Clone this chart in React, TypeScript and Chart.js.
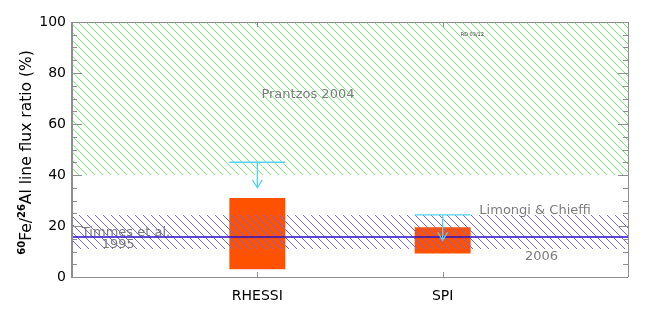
import React, { useEffect, useRef } from 'react';
import { Chart, registerables } from 'chart.js';

Chart.register(...registerables);

// ---- data ----
const categories = ['', 'RHESSI', 'SPI', ''];
const measuredLow: (number | null)[] = [null, 3, 9.2, null];
const measuredHigh: (number | null)[] = [null, 31, 19.5, null];
const upperLimits: (number | null)[] = [null, 45, 24.4, null];
const arrowDrop = 10;
const yTicks = [0, 20, 40, 60, 80, 100];
const prantzosBand = [40, 100];
const modelBand = [11, 24.4];
const modelLine = 15.7;

const FONT = 'DejaVu Sans';

const overlay = {
  id: 'overlay',
  afterDatasetsDraw(chart: any) {
    const { ctx, chartArea: a, scales } = chart;
    const x = scales.x;
    const y = scales.y;
    ctx.save();

    const hatch = (lo: number, hi: number, color: string) => {
      const top = Math.round(y.getPixelForValue(hi));
      const bot = Math.round(y.getPixelForValue(lo));
      const h = bot - top;
      const step = 8;
      ctx.save();
      ctx.beginPath();
      ctx.rect(a.left, top, a.right - a.left, h);
      ctx.clip();
      ctx.fillStyle = color;
      // draw 1px diagonal pixel lines (crisp, like a raster hatch)
      const left = Math.floor(a.left);
      const right = Math.ceil(a.right);
      for (let row = 0; row < h; row++) {
        const py = top + row;
        const shift = (py - 0) % step;
        for (let px = left - step + ((shift + step * 100) % step); px < right; px += step) {
          ctx.fillRect(px, py, 1, 1);
        }
      }
      ctx.restore();
    };

    hatch(prantzosBand[0], prantzosBand[1], '#6ef06e');
    hatch(modelBand[0], modelBand[1], '#7565ec');

    // model line
    const ly = y.getPixelForValue(modelLine);
    ctx.strokeStyle = '#2a10c8';
    ctx.lineWidth = 1.6;
    ctx.beginPath();
    ctx.moveTo(a.left, ly);
    ctx.lineTo(a.right, ly);
    ctx.stroke();

    // upper limit arrows
    const meta = chart.getDatasetMeta(0);
    ctx.strokeStyle = '#52d2f4';
    ctx.lineWidth = 1.3;
    upperLimits.forEach((u, i) => {
      if (u == null) return;
      const el = meta.data[i];
      const cx = x.getPixelForValue(i);
      const half = el && el.width ? el.width / 2 : 28;
      const yl = y.getPixelForValue(u);
      const ye = y.getPixelForValue(u - arrowDrop);
      ctx.beginPath();
      ctx.moveTo(cx - half, yl);
      ctx.lineTo(cx + half, yl);
      ctx.moveTo(cx, yl);
      ctx.lineTo(cx, ye);
      ctx.moveTo(cx - 5, ye - 8);
      ctx.lineTo(cx, ye);
      ctx.lineTo(cx + 5, ye - 8);
      ctx.stroke();
    });

    // annotations
    const txt = (s: string, xv: number, yv: number, align: CanvasTextAlign, size = 13, color = '#7c7c7c') => {
      ctx.font = `${size}px "${FONT}"`;
      ctx.fillStyle = color;
      ctx.textAlign = align;
      ctx.textBaseline = 'alphabetic';
      ctx.fillText(s, x.getPixelForValue(xv), y.getPixelForValue(yv));
    };
    txt('Prantzos 2004', 1.273, 70.1, 'center');
    txt('Timmes et al.', 0.053, 16.2, 'left');
    txt('1995', 0.25, 11.5, 'center');
    txt('Limongi & Chieffi', 2.198, 24.8, 'left');
    txt('2006', 2.533, 6.8, 'center');
    txt('RD 03/12', 2.16, 94.7, 'center', 5, '#333');

    // frame & ticks
    ctx.strokeStyle = '#8e8e8e';
    ctx.lineWidth = 1;
    ctx.beginPath();
    ctx.moveTo(a.left, a.top + 0.5);
    ctx.lineTo(a.right, a.top + 0.5);
    ctx.moveTo(a.left, a.bottom + 0.5);
    ctx.lineTo(a.right, a.bottom + 0.5);
    ctx.moveTo(a.right + 0.5, a.top);
    ctx.lineTo(a.right + 0.5, a.bottom);
    const ymin = y.min, ymax = y.max;
    for (let v = ymin; v <= ymax + 1e-6; v += 5) {
      const p = Math.round(y.getPixelForValue(v)) + 0.5;
      const len = v % 20 === 0 ? 10 : 5;
      ctx.moveTo(a.left, p);
      ctx.lineTo(a.left + len, p);
      ctx.moveTo(a.right, p);
      ctx.lineTo(a.right - len, p);
    }
    categories.forEach((c, i) => {
      if (!c) return;
      const p = Math.round(x.getPixelForValue(i)) + 0.5;
      ctx.moveTo(p, a.bottom);
      ctx.lineTo(p, a.bottom - 5);
      ctx.moveTo(p, a.top);
      ctx.lineTo(p, a.top + 5);
    });
    ctx.stroke();
    ctx.lineWidth = 2;
    ctx.beginPath();
    ctx.moveTo(a.left, a.top);
    ctx.lineTo(a.left, a.bottom + 1);
    ctx.stroke();

    // y title with superscripts
    const parts = [
      { t: '60', sup: true },
      { t: 'Fe/', sup: false },
      { t: '26', sup: true },
      { t: 'Al line flux ratio (%)', sup: false },
    ];
    const f = (sup: boolean) => (sup ? `bold 10px "${FONT}"` : `15.5px "${FONT}"`);
    let total = 0;
    parts.forEach((p) => {
      ctx.font = f(p.sup);
      total += ctx.measureText(p.t).width;
    });
    ctx.translate(31, (a.top + a.bottom) / 2 + 3);
    ctx.rotate(-Math.PI / 2);
    ctx.fillStyle = '#000';
    ctx.textAlign = 'left';
    ctx.textBaseline = 'alphabetic';
    let pos = -total / 2;
    parts.forEach((p) => {
      ctx.font = f(p.sup);
      ctx.fillText(p.t, pos, p.sup ? -6 : 0);
      pos += ctx.measureText(p.t).width;
    });
    ctx.restore();
  },
};

export default function App() {
  const ref = useRef<HTMLCanvasElement>(null);
  useEffect(() => {
    document.body.style.margin = '0';
    const canvas = ref.current!;
    const chart = new Chart(canvas, {
      type: 'bar',
      data: {
        labels: categories,
        datasets: [
          {
            data: categories.map((_, i) =>
              measuredLow[i] == null ? null : [measuredLow[i] as number, measuredHigh[i] as number]
            ) as any,
            backgroundColor: '#ff5200',
            borderWidth: 0,
            barPercentage: 0.302,
            categoryPercentage: 1,
          },
        ],
      },
      options: {
        responsive: false,
        animation: false,
        devicePixelRatio: 1,
        layout: { padding: { top: 22, right: 20, left: 0, bottom: 0 } },
        plugins: { legend: { display: false }, tooltip: { enabled: false } },
        scales: {
          x: {
            type: 'category',
            offset: false,
            grid: { display: false, drawTicks: false },
            border: { display: false },
            ticks: {
              color: '#000',
              font: { family: FONT, size: 14 },
              padding: 11,
              autoSkip: false,
              maxRotation: 0,
            },
            afterFit: (s: any) => {
              s.height = 47;
            },
          },
          y: {
            type: 'linear',
            min: 0,
            max: 100,
            grid: { display: false, drawTicks: false },
            border: { display: false },
            ticks: { color: '#000', font: { family: FONT, size: 14 }, padding: 6 },
            afterBuildTicks: (s: any) => {
              s.ticks = yTicks.map((v) => ({ value: v }));
            },
            afterFit: (s: any) => {
              s.width = 72;
            },
          },
        },
      } as any,
      plugins: [overlay],
    });
    return () => chart.destroy();
  }, []);
  return (
    <div style={{ position: 'absolute', left: 0, top: 0, width: 648, height: 324, background: '#fff' }}>
      <canvas ref={ref} width={648} height={324} style={{ display: 'block', width: 648, height: 324 }} />
    </div>
  );
}
